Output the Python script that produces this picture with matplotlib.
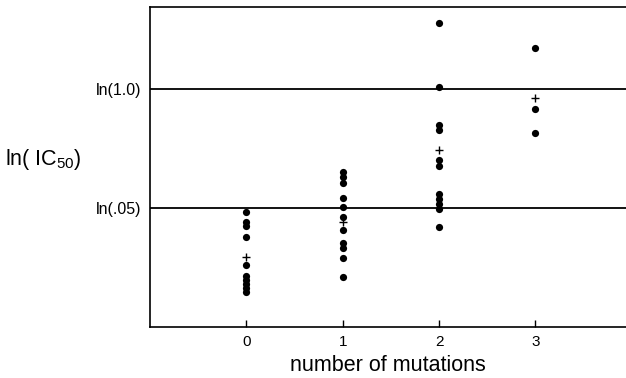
import numpy as np
import matplotlib
matplotlib.use('Agg')
import matplotlib.pyplot as plt

plt.rcParams['font.family'] = ['Liberation Sans', 'DejaVu Sans']
plt.rcParams['mathtext.fontset'] = 'custom'
plt.rcParams['mathtext.rm'] = 'Liberation Sans'

# ln(IC50) values, per number of mutations
mut0 = [-3.11, -3.36, -3.46, -3.74, -4.45, -4.73, -4.83, -4.93, -5.03, -5.13]
mut1 = [-2.09, -2.22, -2.37, -2.75, -2.98, -3.23, -3.56, -3.89, -4.02, -4.27, -4.75]
mut2 = [1.68, 0.06, -0.91, -1.04, -1.79, -1.94, -2.65, -2.78, -2.90, -3.03, -3.49]
mut3 = [1.05, -0.50, -1.11]
groups = [mut0, mut1, mut2, mut3]
means = [-4.25, -3.36, -1.54, -0.22]   # the "+" marks

xticks = [0, 1, 2, 3]
yticks = [np.log(0.05), np.log(1.0)]
yticklabels = ['ln(.05)', 'ln(1.0)']

fig = plt.figure(figsize=(6.26, 3.78), dpi=100)
ax = fig.add_axes([150/626, 1 - 327/378, 476/626, 320/378])

for x, vals in zip(xticks, groups):
    ax.plot([x] * len(vals), vals, 'o', color='black', markersize=5.2, markeredgewidth=0)
ax.plot(xticks, means, '+', color='black', markersize=6, markeredgewidth=1.0)

for y in yticks:
    ax.axhline(y, color='black', linewidth=1.3)

ax.set_xlim(-1.0, 3.94)
ax.set_ylim(-6.02, 2.08)
ax.spines['right'].set_visible(False)
for s in ['left', 'top', 'bottom']:
    ax.spines[s].set_linewidth(1.2)

ax.set_xticks(xticks)
ax.set_xticklabels([str(t) for t in xticks], fontsize=11)
ax.tick_params(axis='x', direction='in', length=5, width=1, pad=6)
ax.set_yticks(yticks)
ax.set_yticklabels(yticklabels, fontsize=11.5)
ax.tick_params(axis='y', length=0, pad=6)

ax.set_xlabel('number of mutations', fontsize=15.5, labelpad=4)
fig.text(5/626, 1 - 160/378, r'ln( IC$_{50}$)', fontsize=15.5, ha='left', va='center')

fig.savefig('out.png', dpi=100)
